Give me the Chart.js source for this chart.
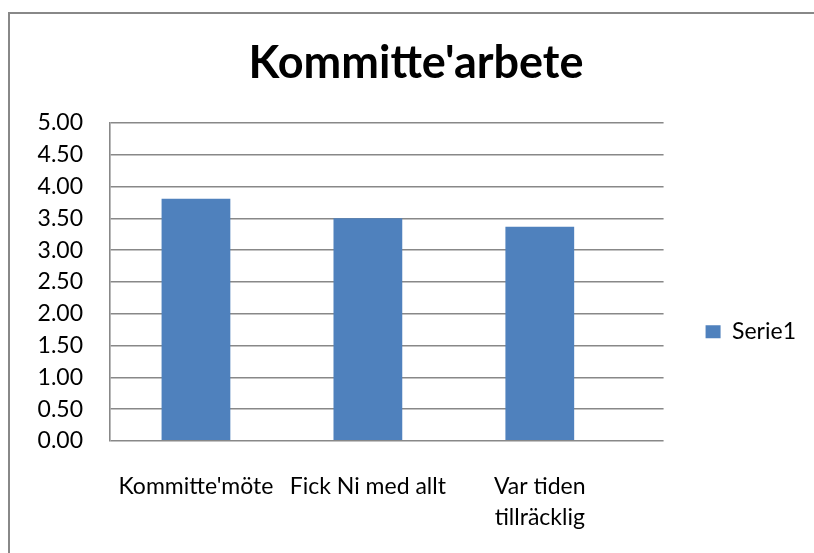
<!DOCTYPE html>
<html>
<head>
<meta charset="utf-8">
<script src="https://cdn.jsdelivr.net/npm/chart.js@4/dist/chart.umd.min.js"></script>
<style>
    html, body { margin: 0; padding: 0; background: #fff; overflow: hidden; }
    #frame {
        position: absolute; left: 8px; top: 12px;
        width: 900px; height: 600px;
        border-left: 2px solid #888; border-top: 2px solid #888;
    }
    #wrap { position: absolute; left: 0; top: 0; width: 804px; height: 550px; }
</style>
</head>
<body>
<div id="frame"><div id="wrap"><canvas id="chart"></canvas></div></div>
<script>
// Chart data
const chartTitle = "Kommitte'arbete";
const categories = ["Kommitte'möte", "Fick Ni med allt", "Var tiden tillräcklig"];
const categoryLines = [["Kommitte'möte"], ["Fick Ni med allt"], ["Var tiden", "tillräcklig"]];
const seriesName = 'Serie1';
const serie1 = [3.81, 3.50, 3.37];
const yTicks = [0, 0.5, 1, 1.5, 2, 2.5, 3, 3.5, 4, 4.5, 5];

const fontFamily = 'Lato, "Open Sans", sans-serif';
const gridColor = '#888';

const ctx = document.getElementById('chart').getContext('2d');
new Chart(ctx, {
    type: 'bar',
    data: {
        datasets: [{
            label: seriesName,
            data: serie1.map((v, i) => ({ x: i, y: v })),
            backgroundColor: '#4F81BD',
            borderWidth: 0,
            barPercentage: 0.4,
            categoryPercentage: 1
        }]
    },
    options: {
        responsive: true,
        maintainAspectRatio: false,
        animation: false,
        layout: { padding: { left: 16, right: 8, top: 0, bottom: 1 } },
        plugins: {
            title: {
                display: true,
                text: chartTitle,
                color: '#000',
                font: { family: fontFamily, size: 45, weight: 'bold', lineHeight: 1.2 },
                padding: { top: 22, bottom: 33 }
            },
            legend: {
                position: 'right',
                align: 'center',
                // empty title only used to push the entry down to where Excel puts it
                title: { display: true, text: '', font: { size: 12, lineHeight: 1.2 }, padding: { top: 36, bottom: 36 } },
                labels: {
                    boxWidth: 15,
                    boxHeight: 13,
                    padding: 42,
                    color: '#000',
                    font: { family: fontFamily, size: 23 }
                }
            },
            tooltip: { enabled: false }
        },
        scales: {
            x: {
                type: 'linear',
                offset: false,
                min: -0.5,
                max: 2.72,
                grid: { display: false, drawTicks: false },
                border: { display: false },
                afterBuildTicks: (scale) => {
                    scale.ticks = categories.map((c, i) => ({ value: i }));
                },
                ticks: {
                    autoSkip: false,
                    maxRotation: 0,
                    padding: 30,
                    color: '#000',
                    font: { family: fontFamily, size: 23, lineHeight: 1.35 },
                    callback: (value) => categoryLines[value]
                }
            },
            y: {
                min: 0,
                max: 5,
                afterBuildTicks: (scale) => {
                    scale.ticks = yTicks.map(v => ({ value: v }));
                },
                afterFit: (scale) => { scale.width = 84; },
                grid: { color: gridColor, lineWidth: 1.6, drawTicks: false },
                border: { display: true, color: gridColor, width: 1.6 },
                ticks: {
                    autoSkip: false,
                    padding: 27,
                    color: '#000',
                    font: { family: fontFamily, size: 23 },
                    callback: (value) => Number(value).toFixed(2)
                }
            }
        }
    }
});
</script>
</body>
</html>
